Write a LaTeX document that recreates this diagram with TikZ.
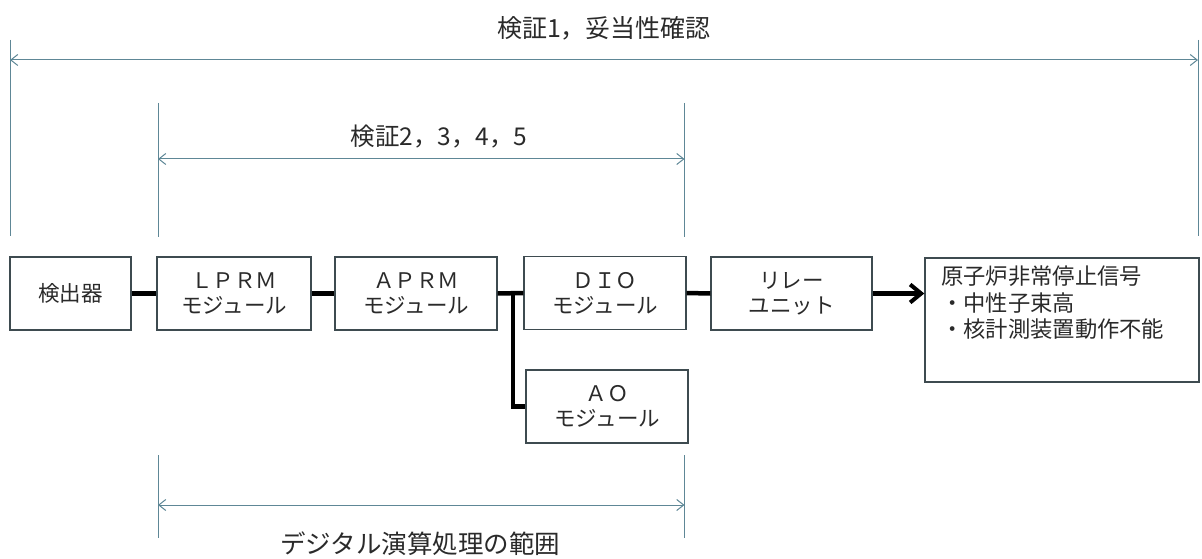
\documentclass[tikz,border=0pt]{standalone}
\usepackage{fontspec}
\setmainfont{Noto Sans CJK JP}
\usetikzlibrary{arrows.meta}
\definecolor{boxc}{HTML}{3E4B50}
\definecolor{dimc}{HTML}{5E8796}
\definecolor{txtc}{HTML}{2A2A2A}
\tikzset{
  box/.style={draw=boxc, line width=1.4pt, fill=white, align=center, text=txtc,
    font=\fontsize{21.5}{25}\selectfont, inner sep=0pt},
  conn/.style={line width=4.5pt, black},
  dimv/.style={dimc, line width=1pt},
  dima/.style={dimc, line width=1pt, {Straight Barb[length=7pt,width=11pt]}-{Straight Barb[length=7pt,width=11pt]}},
  lbl/.style={text=txtc, inner sep=0pt},
}
\begin{document}
\begin{tikzpicture}[x=1pt,y=-1pt]
\useasboundingbox (0,0) rectangle (1202,559);

% blocks
\node[box, minimum width=121pt, minimum height=73pt] (det) at (70.5,293.5) {検出器};
\node[box, minimum width=154pt, minimum height=73pt] (lprm) at (234,293.5) {ＬＰＲＭ\\モジュール};
\node[box, minimum width=162pt, minimum height=73pt] (aprm) at (416,293.5) {ＡＰＲＭ\\モジュール};
\node[box, minimum width=162pt, minimum height=73pt] (dio) at (605,293) {ＤＩＯ\\モジュール};
\node[box, minimum width=161pt, minimum height=73pt] (relay) at (791.5,293.5) {リレー\\ユニット};
\node[box, minimum width=162pt, minimum height=73pt] (ao) at (607,406.5) {ＡＯ\\モジュール};
\node[box, minimum width=274pt, minimum height=124pt] (res) at (1062,320) {};
\node[lbl, anchor=north west, align=left, font=\fontsize{22.3}{26.5}\selectfont]
  (resT) at (941,266) {原子炉非常停止信号\\・中性子束高\\・核計測装置動作不能};

% connectors
\coordinate (j) at (513,293.5);
\draw[conn] (det.east) -- (lprm.west);
\draw[conn] (lprm.east) -- (aprm.west);
\draw[conn] (aprm.east) -- (dio.west);
\draw[conn] (aprm.east -| j) |- (ao.west);
\draw[conn] (dio.east) -- (relay.west);
\draw[conn, -{Straight Barb[length=11pt,width=18pt,line width=4pt]}] (relay.east) -- (relay.east -| res.west);

% outer dimension
\coordinate (o1t) at (10,40);  \coordinate (o1b) at (10,236);
\coordinate (o2t) at (1198,40); \coordinate (o2b) at (1198,236);
\coordinate (o1m) at (10,60);  \coordinate (o2m) at (1198,60);
\draw[dimv] (o1t) -- (o1b);
\draw[dimv] (o2t) -- (o2b);
\draw[dima] (o1m) -- (o2m);
\node[lbl, font=\fontsize{25}{25}\selectfont] (t1) at (604,28) {検証1，妥当性確認};

% inner top dimension
\coordinate (i1t) at (158,103);  \coordinate (i1b) at (158,237);
\coordinate (i2t) at (684.5,103); \coordinate (i2b) at (684.5,237);
\coordinate (i1m) at (158,159);  \coordinate (i2m) at (684.5,159);
\draw[dimv] (i1t) -- (i1b);
\draw[dimv] (i2t) -- (i2b);
\draw[dima] (i1m) -- (i2m);
\node[lbl, font=\fontsize{24.5}{24.5}\selectfont] (t2) at (439,137) {検証2，3，4，5};

% inner bottom dimension
\coordinate (b1t) at (158,455);  \coordinate (b1b) at (158,538);
\coordinate (b2t) at (684.5,455); \coordinate (b2b) at (684.5,538);
\coordinate (b1m) at (158,505);  \coordinate (b2m) at (684.5,505);
\draw[dimv] (b1t) -- (b1b);
\draw[dimv] (b2t) -- (b2b);
\draw[dima] (b1m) -- (b2m);
\node[lbl, font=\fontsize{25.5}{25.5}\selectfont] (t3) at (420,544) {デジタル演算処理の範囲};
\end{tikzpicture}
\end{document}
